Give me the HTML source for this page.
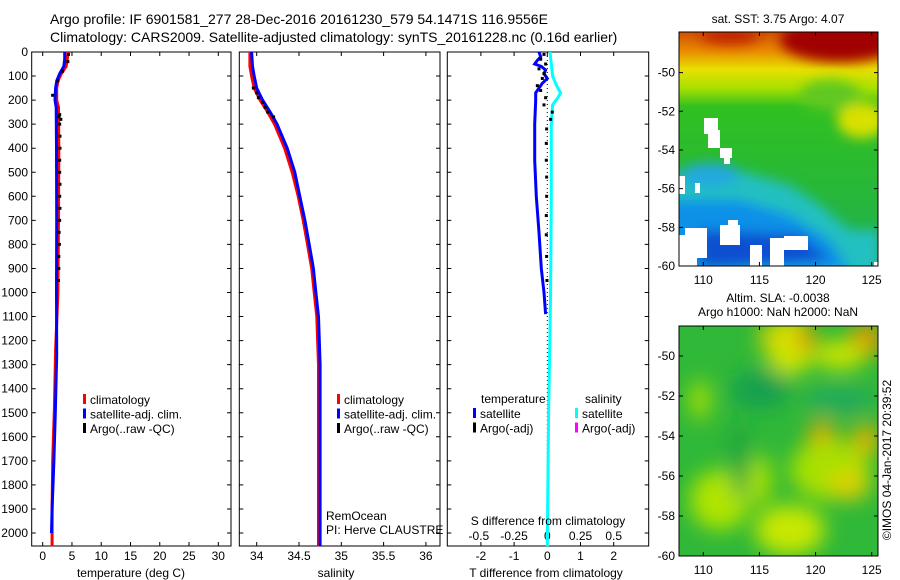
<!DOCTYPE html>
<html><head><meta charset="utf-8"><style>
body{margin:0;background:#fff;}
svg{display:block;font-family:"Liberation Sans",sans-serif;}
text{fill:#000;}
</style></head><body>
<svg id="fig" width="900" height="580" viewBox="0 0 900 580" xmlns="http://www.w3.org/2000/svg">
<defs>
<filter id="blur6" x="-20%" y="-20%" width="140%" height="140%"><feGaussianBlur stdDeviation="6"/></filter>
<filter id="blur10" x="-30%" y="-30%" width="160%" height="160%"><feGaussianBlur stdDeviation="10"/></filter>
<clipPath id="clipM1"><rect x="679" y="32" width="199" height="234"/></clipPath>
<clipPath id="clipM2"><rect x="679" y="326" width="199" height="230"/></clipPath>
<linearGradient id="sstTop" x1="0" y1="0" x2="0" y2="1">
<stop offset="0" stop-color="#d05000"/><stop offset="0.08" stop-color="#e88a00"/><stop offset="0.16" stop-color="#e8e000"/><stop offset="0.24" stop-color="#a8e000"/><stop offset="0.32" stop-color="#30c020"/><stop offset="1" stop-color="#20b050"/>
</linearGradient>
</defs>
<text x="50" y="24" font-size="14">Argo profile: IF 6901581_277 28-Dec-2016 20161230_579 54.1471S 116.9556E</text>
<text x="50" y="42" font-size="14">Climatology: CARS2009. Satellite-adjusted climatology: synTS_20161228.nc (0.16d earlier)</text>

<g id="p1"></g>
<g id="p2"></g>
<g id="p3"></g>

<!-- map 1 SST -->
<g>
<text x="778" y="23" font-size="12" text-anchor="middle">sat. SST: 3.75 Argo: 4.07</text>
<g clip-path="url(#clipM1)">
<rect x="679" y="32" width="199" height="234" fill="url(#sstTop)"/>
<g filter="url(#blur6)">
<ellipse cx="840" cy="40" rx="60" ry="22" fill="#a00000"/>
<ellipse cx="730" cy="36" rx="30" ry="8" fill="#c02000"/>
<ellipse cx="862" cy="120" rx="25" ry="18" fill="#d8e000"/>
<ellipse cx="830" cy="95" rx="30" ry="15" fill="#60c820"/>
<polygon points="670,175 720,165 790,185 820,205 850,230 880,230 880,280 670,280" fill="#20c0c0"/>
<polygon points="670,200 740,200 790,215 830,240 850,270 670,270" fill="#1090e8"/>
<polygon points="700,230 800,235 830,260 700,270" fill="#1050d0"/>
<ellipse cx="710" cy="175" rx="30" ry="12" fill="#20a8e0"/>
</g>
<g fill="#fff">
<rect x="704" y="118" width="14" height="16"/><rect x="708" y="130" width="12" height="18"/><rect x="720" y="148" width="12" height="10"/>
<rect x="724" y="150" width="6" height="14"/><rect x="679" y="176" width="6" height="18"/><rect x="695" y="183" width="5" height="10"/>
<rect x="679" y="235" width="18" height="31"/><rect x="685" y="228" width="22" height="30"/><rect x="720" y="225" width="20" height="20"/>
<rect x="728" y="220" width="10" height="10"/><rect x="750" y="245" width="12" height="21"/><rect x="770" y="238" width="14" height="28"/>
<rect x="784" y="236" width="24" height="14"/><rect x="690" y="245" width="8" height="10"/><rect x="874" y="262" width="4" height="4"/>
</g>
</g>
<rect x="679" y="32" width="199" height="234" fill="none" stroke="#000" stroke-width="1"/>
<g id="m1ax"></g>
</g>

<!-- map 2 SLA -->
<g>
<text x="778" y="302" font-size="12" text-anchor="middle">Altim. SLA: -0.0038</text>
<text x="778" y="316" font-size="12" text-anchor="middle">Argo h1000: NaN h2000: NaN</text>
<g clip-path="url(#clipM2)">
<rect x="679" y="326" width="199" height="230" fill="#30b838"/>
<g filter="url(#blur10)">
<ellipse cx="790" cy="345" rx="25" ry="30" fill="#d0e400"/>
<ellipse cx="806" cy="338" rx="10" ry="14" fill="#e09a00"/>
<ellipse cx="770" cy="336" rx="12" ry="10" fill="#e0d000"/>
<ellipse cx="866" cy="340" rx="16" ry="18" fill="#e09a00"/>
<ellipse cx="840" cy="355" rx="25" ry="15" fill="#c8e400"/>
<ellipse cx="822" cy="440" rx="14" ry="20" fill="#e0a800"/>
<ellipse cx="866" cy="440" rx="14" ry="16" fill="#e0b000"/>
<ellipse cx="830" cy="470" rx="40" ry="30" fill="#a8e000"/>
<ellipse cx="850" cy="485" rx="20" ry="15" fill="#e0d000"/>
<ellipse cx="720" cy="500" rx="30" ry="30" fill="#b0e400"/>
<ellipse cx="790" cy="530" rx="35" ry="25" fill="#c8e800"/>
<ellipse cx="760" cy="480" rx="12" ry="25" fill="#a8e000"/>
<ellipse cx="700" cy="400" rx="10" ry="20" fill="#a8e000"/>
<ellipse cx="760" cy="390" rx="30" ry="20" fill="#18a050"/>
<ellipse cx="840" cy="400" rx="35" ry="12" fill="#20a860"/>
<ellipse cx="740" cy="460" rx="8" ry="40" fill="#18a040"/>
</g>
</g>
<rect x="679" y="326" width="199" height="230" fill="none" stroke="#000" stroke-width="1"/>
<g id="m2ax"></g>
</g>
<text transform="translate(891,460) rotate(-90)" font-size="12" text-anchor="middle">©IMOS 04-Jan-2017 20:39:52</text>
</svg>
<script>
// ---- data ----
const depthTicks = [0,100,200,300,400,500,600,700,800,900,1000,1100,1200,1300,1400,1500,1600,1700,1800,1900,2000];
const tempTicks = [0,5,10,15,20,25,30];
const salTicks = [34,34.5,35,35.5,36];
const salTickLabels = ["34","34.5","35","35.5","36"];
const diffTTicks = [-2,-1,0,1,2];
const diffSTickLabels = ["-0.5","-0.25","0","0.25","0.5"];

const climDepth = [0,30,60,90,120,150,200,230,400,700,1000,1240,1480,1700,1900,2055];
const climTemp  = [4.3,4.2,4.0,3.2,2.6,2.4,2.4,2.7,2.75,2.7,2.6,2.2,2.0,1.7,1.6,1.6];
const satDepth  = [0,30,60,90,120,150,200,230,400,700,1000,1260,1500,1710,1900,2000];
const satTemp   = [3.75,3.75,3.6,2.9,2.4,2.2,2.1,2.3,2.35,2.4,2.35,2.4,2.15,1.9,1.6,1.5];
const argoDepth = [10,40,80,120,180,260,270,280,300,350,400,450,500,550,600,650,700,750,800,850,900,950];
const argoTemp  = [4.4,4.3,3.4,2.6,1.7,2.9,2.8,3.1,2.9,2.95,2.95,2.9,2.9,2.95,2.9,2.95,2.9,2.8,2.85,2.75,2.75,2.7];

const climSalDepth = [0,60,100,150,200,250,300,400,500,600,700,800,900,1000,1100,1200,1300,2055];
const climSal = [33.92,33.92,33.94,33.97,34.04,34.13,34.21,34.33,34.42,34.49,34.55,34.6,34.65,34.68,34.71,34.72,34.73,34.73];
const satSalDepth = [0,60,100,150,200,250,300,400,500,600,700,800,900,1000,1100,1200,1300,2055];
const satSal = [33.94,33.95,33.97,34.0,34.07,34.16,34.24,34.36,34.45,34.51,34.57,34.62,34.67,34.7,34.73,34.74,34.75,34.75];
const argoSalDepth = [150,170,190,210,230,250,270];
const argoSal = [33.96,34.0,34.02,34.07,34.1,34.13,34.2];

const dTDepth = [0,20,35,50,60,75,90,110,130,150,170,200,300,450,600,750,900,1000,1090];
const dTSat   = [-0.25,-0.2,-0.3,-0.38,-0.18,-0.05,-0.1,0.0,-0.15,-0.25,-0.35,-0.35,-0.38,-0.38,-0.33,-0.25,-0.18,-0.1,-0.05];
const dSDepth = [0,50,100,140,170,190,220,300,600,1000,1500,2055];
const dSSat   = [0.02,0.03,0.04,0.07,0.1,0.08,0.04,0.03,0.03,0.025,0.01,0.0];
const dTArgoDepth = [10,30,50,70,90,110,140,160,190,220,250,280,320,380,450,520,600,680,760,850,950];
const dTArgo = [-0.1,-0.2,-0.05,-0.25,-0.1,-0.15,-0.3,-0.2,-0.05,-0.1,0.15,0.1,-0.02,-0.03,-0.03,-0.02,-0.02,-0.03,-0.03,-0.02,-0.01];

const latTicks = [-50,-52,-54,-56,-58,-60];
const lonTicks = [110,115,120,125];

// ---- geometry ----
const NS='http://www.w3.org/2000/svg';
const Y0=52, PXM=0.2405, YB=546;
const yD = d => Y0 + d*PXM;
const xT = t => 42.7 + t*(218.3-42.7)/30;
const xS = s => 256.7 + (s-34)*84.6;
const xDT = v => 547.3 + v*33.2;
const xDS = v => 547.3 + v*4*33.2;

function mk(parent,tag,attrs){const e=document.createElementNS(NS,tag);for(const k in attrs)e.setAttribute(k,attrs[k]);parent.appendChild(e);return e;}

function frame(g,x0,x1,name){
  const r=mk(g,'rect',{x:x0,y:Y0,width:x1-x0,height:YB-Y0,fill:'none',stroke:'#000','stroke-width':1});
  
  
  depthTicks.forEach((d,i)=>{
    const y=yD(d);
    const t=mk(g,'path',{d:`M${x0} ${y}h4M${x1} ${y}h-4`,stroke:'#000','stroke-width':1});
    
    
  });
}
function xtick(g,x,lab,yl){
  const t=mk(g,'path',{d:`M${x} ${Y0}v4M${x} ${YB}v-4`,stroke:'#000','stroke-width':1});
  
  
  if(lab!==null){
    const tx=mk(g,'text',{x:x,y:yl||560,'font-size':12,'text-anchor':'middle'});tx.textContent=lab;
    
    
  }
}
function line(g,xs,ys,fx,color,name,w){
  const pts=xs.map((v,i)=>fx(v).toFixed(1)+','+yD(ys[i]).toFixed(1)).join(' ');
  const p=mk(g,'polyline',{points:pts,fill:'none',stroke:color,'stroke-width':w||3,'stroke-linejoin':'miter'});
  
  
}
function marks(g,xs,ys,fx,color,name){
  xs.forEach((v,i)=>{
    const r=mk(g,'rect',{x:fx(v)-1.5,y:yD(ys[i])-1.5,width:3,height:3,fill:color});
    
    
  });
}
function legend(g,x,y,items){
  items.forEach((it,i)=>{
    const r=mk(g,'rect',{x:x,y:y+i*14.5-10,width:3,height:10,fill:it[1]});
    
    
    const t=mk(g,'text',{x:x+7,y:y+i*14.5,'font-size':12});t.textContent=it[0];
    
    
  });
}

// panel 1
const p1=document.getElementById('p1');
frame(p1,31.7,231,'temperature');
depthTicks.forEach(d=>{const t=mk(p1,'text',{x:28,y:yD(d)+4,'font-size':12,'text-anchor':'end'});t.textContent=d;
  
  });
tempTicks.forEach(t=>xtick(p1,xT(t),String(t)));
line(p1,climTemp,climDepth,xT,'#ff0000','climatology-temp-line');
line(p1,satTemp,satDepth,xT,'#0000ff','satellite-temp-line');
marks(p1,argoTemp,argoDepth,xT,'#000','argo-temp-point');
legend(p1,83,404,[['climatology','#f00'],['satellite-adj. clim.','#00f'],['Argo(..raw -QC)','#000']]);
{const t=mk(p1,'text',{x:131,y:577,'font-size':12,'text-anchor':'middle'});t.textContent='temperature (deg C)';

}

// panel 2
const p2=document.getElementById('p2');
frame(p2,239.3,440,'salinity');
salTicks.forEach((s,i)=>xtick(p2,xS(s),salTickLabels[i]));
line(p2,climSal,climSalDepth,xS,'#ff0000','climatology-salinity-line');
line(p2,satSal,satSalDepth,xS,'#0000ff','satellite-salinity-line');
marks(p2,argoSal,argoSalDepth,xS,'#000','argo-salinity-point');
legend(p2,337,404,[['climatology','#f00'],['satellite-adj. clim.','#00f'],['Argo(..raw -QC)','#000']]);
{const t=mk(p2,'text',{x:336,y:577,'font-size':12,'text-anchor':'middle'});t.textContent='salinity';

const a=mk(p2,'text',{x:326,y:520,'font-size':12});a.textContent='RemOcean';

const b=mk(p2,'text',{x:326,y:534,'font-size':12});b.textContent='PI: Herve CLAUSTRE';
}

// panel 3
const p3=document.getElementById('p3');
frame(p3,447.3,648.7,'difference');
diffTTicks.forEach(v=>xtick(p3,xDT(v),String(v)));
diffSTickLabels.forEach((l,i)=>{const t=mk(p3,'text',{x:xDT(diffTTicks[i])+(i==0?-2:0),y:540,'font-size':12,'text-anchor':'middle'});t.textContent=l;
  });
{const z=mk(p3,'line',{x1:xDT(0),y1:Y0,x2:xDT(0),y2:YB,stroke:'#000','stroke-width':1,'stroke-dasharray':'1,3'});
}
line(p3,dSSat,dSDepth,xDS,'#00ffff','salinity-diff-line');
line(p3,dTSat,dTDepth,xDT,'#0000ff','temperature-diff-line');
marks(p3,dTArgo,dTArgoDepth,xDT,'#000','argo-temp-diff-point');
{const t=mk(p3,'text',{x:481,y:403,'font-size':12});t.textContent='temperature';

const s=mk(p3,'text',{x:585,y:403,'font-size':12});s.textContent='salinity';
}
legend(p3,473,418,[['satellite','#00f'],['Argo(-adj)','#000']]);
legend(p3,575,418,[['satellite','#0ff'],['Argo(-adj)','#f0f']]);
{const t=mk(p3,'text',{x:548,y:525,'font-size':12,'text-anchor':'middle'});t.textContent='S difference from climatology';

const u=mk(p3,'text',{x:546,y:577,'font-size':12,'text-anchor':'middle'});u.textContent='T difference from climatology';
}

// map axes
function mapAxes(id,top,bot,latTop,name){
  const g=document.getElementById(id);
  const yl=lat=>bot-(lat+60)*(bot-top)/(latTop+60);
  const xl=lon=>703.3+(lon-110)*(871.7-703.3)/15;
  latTicks.forEach(l=>{const y=yl(l);
    const p=mk(g,'path',{d:`M679 ${y}h4M878 ${y}h-4`,stroke:'#000'});
    
    const t=mk(g,'text',{x:675,y:y+4,'font-size':12,'text-anchor':'end'});t.textContent=l;
    });
  lonTicks.forEach(l=>{const x=xl(l);
    const p=mk(g,'path',{d:`M${x} ${top}v4M${x} ${bot}v-4`,stroke:'#000'});
    
    const t=mk(g,'text',{x:x,y:bot+18,'font-size':12,'text-anchor':'middle'});t.textContent=l;
    });
}
mapAxes('m1ax',32,266,-47.9,'sst-map');
mapAxes('m2ax',326,556,-48.5,'sla-map');
</script>
</body></html>
